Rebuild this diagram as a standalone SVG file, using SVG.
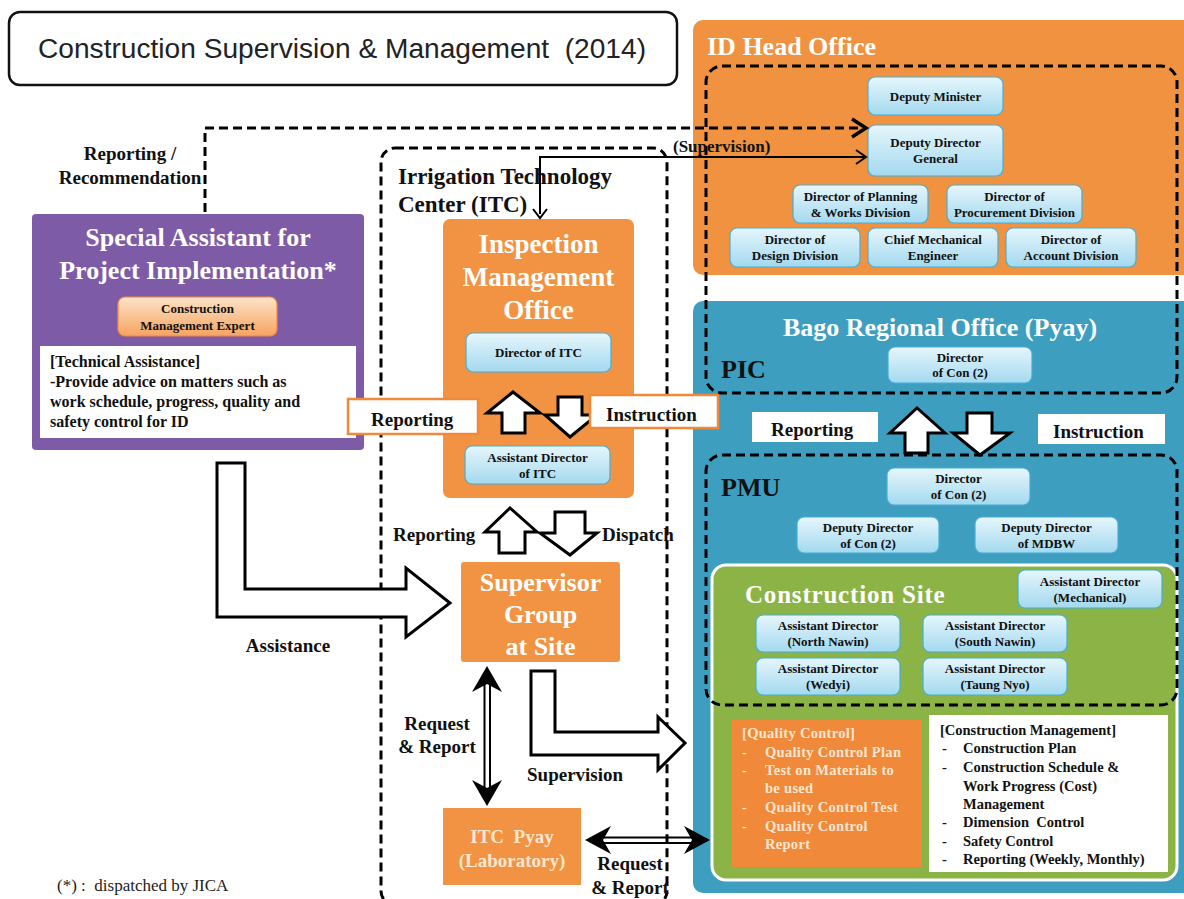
<svg xmlns="http://www.w3.org/2000/svg" width="1184" height="899" viewBox="0 0 1184 899">
  <defs>
    <linearGradient id="gBlue" x1="0" y1="0" x2="0" y2="1">
      <stop offset="0" stop-color="#E6F6FC"/>
      <stop offset="1" stop-color="#A3D9EF"/>
    </linearGradient>
    <linearGradient id="gExpert" x1="0" y1="0" x2="0" y2="1">
      <stop offset="0" stop-color="#FCE3C8"/>
      <stop offset="1" stop-color="#F6A460"/>
    </linearGradient>
    <style>
      .serif { font-family: "Liberation Serif", "Times New Roman", serif; font-weight: bold; }
      .node rect.box { fill: url(#gBlue); stroke: #47AED4; stroke-width: 1.2; }
      .node text { font-family: "Liberation Serif", serif; font-weight: bold; font-size: 13px; fill: #111; text-anchor: middle; }
      .dash { fill: none; stroke: #000; stroke-width: 3; stroke-dasharray: 9 5; }
      .block { fill: #fff; stroke: #000; stroke-width: 3; stroke-linejoin: miter; }
      .lbl { font-family: "Liberation Serif", serif; font-weight: bold; font-size: 19px; fill: #111; }
      .white { fill: #fff; }
      .cream { fill: #FCE6D0; }
      .head { font-family: "Liberation Serif", serif; font-weight: bold; fill: #fff; }
      .pre { white-space: pre; }
    </style>
  </defs>

  <rect width="1184" height="899" fill="#fff"/>

  <!-- Title -->
  <g id="title">
    <rect x="9" y="12" width="668" height="73" rx="11" fill="#fff" stroke="#111" stroke-width="2.5"/>
    <text class="pre" x="38" y="58" textLength="608" lengthAdjust="spacingAndGlyphs" font-family="Liberation Sans, Arial, sans-serif" font-size="27" fill="#222">Construction Supervision &amp; Management  (2014)</text>
  </g>

  <!-- ID Head Office -->
  <g id="id-head-office">
    <rect x="693" y="20" width="500" height="255" rx="10" fill="#F0923F"/>
    <text class="head" x="707" y="55" font-size="26">ID Head Office</text>
  </g>

  <!-- Bago Regional Office -->
  <g id="bago-office">
    <rect x="693" y="301" width="500" height="592" rx="10" fill="#3E9EC0"/>
    <text class="head" x="940" y="336" font-size="26" text-anchor="middle">Bago Regional Office (Pyay)</text>
    <text class="serif" x="721" y="378" font-size="26" fill="#111">PIC</text>
    <text class="serif" x="721" y="496" font-size="26" fill="#111">PMU</text>
  </g>

  <!-- Construction Site -->
  <g id="construction-site">
    <rect x="712" y="565" width="465" height="315" rx="14" fill="#8BB346" stroke="#fff" stroke-width="3"/>
    <text class="head" x="745" y="603" font-size="25" letter-spacing="0.8">Construction Site</text>
  </g>

  <!-- Quality control box -->
  <g id="quality-control">
    <rect x="732" y="720" width="190" height="147" fill="#F08A3A"/>
    <g class="serif cream" font-size="14.5" letter-spacing="0.3">
      <text x="742" y="738">[Quality Control]</text>
      <text x="742" y="757">-</text><text x="765" y="757">Quality Control Plan</text>
      <text x="742" y="775">-</text><text x="765" y="775">Test on Materials to</text>
      <text x="765" y="793">be used</text>
      <text x="742" y="812">-</text><text x="765" y="812">Quality Control Test</text>
      <text x="742" y="831">-</text><text x="765" y="831">Quality Control</text>
      <text x="765" y="849">Report</text>
    </g>
  </g>

  <!-- Construction management box -->
  <g id="construction-management">
    <rect x="929" y="715" width="239" height="157" fill="#fff"/>
    <g class="serif" font-size="14.5" fill="#111">
      <text x="940" y="735">[Construction Management]</text>
      <text x="942" y="753">-</text><text x="963" y="753">Construction Plan</text>
      <text x="942" y="772">-</text><text x="963" y="772">Construction Schedule &amp;</text>
      <text x="963" y="791">Work Progress (Cost)</text>
      <text x="963" y="809">Management</text>
      <text x="942" y="827">-</text><text class="pre" x="963" y="827">Dimension  Control</text>
      <text x="942" y="846">-</text><text x="963" y="846">Safety Control</text>
      <text x="942" y="864">-</text><text x="963" y="864">Reporting (Weekly, Monthly)</text>
    </g>
  </g>

  <!-- ID Head Office members -->
  <g id="deputy-minister" class="node"><rect class="box" x="868" y="77" width="135" height="38" rx="7"/><text x="935.5" y="101">Deputy Minister</text></g>
  <g id="deputy-director-general" class="node"><rect class="box" x="868" y="125" width="135" height="51" rx="7"/><text x="935.5" y="147">Deputy Director</text><text x="935.5" y="163">General</text></g>
  <g id="dir-planning" class="node"><rect class="box" x="793" y="185" width="135" height="38" rx="7"/><text x="860.5" y="201">Director of Planning</text><text x="860.5" y="217">&amp; Works Division</text></g>
  <g id="dir-procurement" class="node"><rect class="box" x="947" y="185" width="135" height="38" rx="7"/><text x="1014.5" y="201">Director of</text><text x="1014.5" y="217">Procurement Division</text></g>
  <g id="dir-design" class="node"><rect class="box" x="730" y="228" width="130" height="39" rx="7"/><text x="795" y="244">Director of</text><text x="795" y="260">Design Division</text></g>
  <g id="chief-mech" class="node"><rect class="box" x="868" y="228" width="130" height="39" rx="7"/><text x="933" y="244">Chief Mechanical</text><text x="933" y="260">Engineer</text></g>
  <g id="dir-account" class="node"><rect class="box" x="1006" y="228" width="130" height="39" rx="7"/><text x="1071" y="244">Director of</text><text x="1071" y="260">Account Division</text></g>

  <!-- Regional office members -->
  <g id="pic-director" class="node"><rect class="box" x="888" y="347" width="144" height="36" rx="7"/><text x="960" y="362">Director</text><text x="960" y="377">of Con (2)</text></g>
  <g id="pmu-director" class="node"><rect class="box" x="887" y="468" width="143" height="37" rx="7"/><text x="958.5" y="483">Director</text><text x="958.5" y="499">of Con (2)</text></g>
  <g id="pmu-deputy-con" class="node"><rect class="box" x="797" y="517" width="142" height="36" rx="7"/><text x="868" y="532">Deputy Director</text><text x="868" y="548">of Con (2)</text></g>
  <g id="pmu-deputy-mdbw" class="node"><rect class="box" x="975" y="517" width="143" height="36" rx="7"/><text x="1046.5" y="532">Deputy Director</text><text x="1046.5" y="548">of MDBW</text></g>
  <g id="ad-mechanical" class="node"><rect class="box" x="1018" y="570" width="144" height="38" rx="7"/><text x="1090" y="586">Assistant Director</text><text x="1090" y="602">(Mechanical)</text></g>
  <g id="ad-north-nawin" class="node"><rect class="box" x="756" y="615" width="144" height="37" rx="7"/><text x="828" y="630">Assistant Director</text><text x="828" y="646">(North Nawin)</text></g>
  <g id="ad-south-nawin" class="node"><rect class="box" x="923" y="615" width="144" height="37" rx="7"/><text x="995" y="630">Assistant Director</text><text x="995" y="646">(South Nawin)</text></g>
  <g id="ad-wedyi" class="node"><rect class="box" x="756" y="658" width="144" height="37" rx="7"/><text x="828" y="673">Assistant Director</text><text x="828" y="689">(Wedyi)</text></g>
  <g id="ad-taung-nyo" class="node"><rect class="box" x="923" y="658" width="144" height="37" rx="7"/><text x="995" y="673">Assistant Director</text><text x="995" y="689">(Taung Nyo)</text></g>

  <!-- Special Assistant -->
  <g id="special-assistant">
    <rect x="32" y="214" width="332" height="236" rx="4" fill="#7E5BA6"/>
    <text class="head" x="198" y="246" font-size="26" text-anchor="middle">Special Assistant for</text>
    <text class="head" x="198" y="279" font-size="26" text-anchor="middle">Project Implementation*</text>
    <rect x="118" y="297" width="159" height="39" rx="7" fill="url(#gExpert)" stroke="#F08A3A" stroke-width="1.2"/>
    <text class="serif" x="197.5" y="313" font-size="13" text-anchor="middle" fill="#111">Construction</text>
    <text class="serif" x="197.5" y="330" font-size="13" text-anchor="middle" fill="#111">Management Expert</text>
    <rect x="40" y="346" width="316" height="92" fill="#fff"/>
    <g class="serif" font-size="16" fill="#111">
      <text x="50" y="367">[Technical Assistance]</text>
      <text x="50" y="387">-Provide advice on matters such as</text>
      <text x="50" y="407">work schedule, progress, quality and</text>
      <text x="50" y="427">safety control for ID</text>
    </g>
  </g>

  <!-- ITC -->
  <g id="itc">
    <text class="serif" x="398" y="184" font-size="23" fill="#111">Irrigation Technology</text>
    <text class="serif" x="398" y="212" font-size="23" fill="#111">Center (ITC)</text>
  </g>

  <g id="inspection-office">
    <rect x="443" y="219" width="191" height="279" rx="7" fill="#F29343"/>
    <text class="head" x="538.5" y="253" font-size="27" text-anchor="middle">Inspection</text>
    <text class="head" x="538.5" y="286" font-size="27" text-anchor="middle">Management</text>
    <text class="head" x="538.5" y="319" font-size="27" text-anchor="middle">Office</text>
  </g>
  <g id="dir-itc" class="node"><rect class="box" x="466" y="333" width="145" height="39" rx="7"/><text x="538.5" y="357">Director of ITC</text></g>
  <g id="ad-itc" class="node"><rect class="box" x="465" y="446" width="145" height="38" rx="7"/><text x="537.5" y="462">Assistant Director</text><text x="537.5" y="478">of ITC</text></g>

  <g id="supervisor-group">
    <rect x="461" y="562" width="159" height="100" rx="3" fill="#F29343"/>
    <text class="head" x="540.5" y="591" font-size="26" text-anchor="middle">Supervisor</text>
    <text class="head" x="540.5" y="623" font-size="26" text-anchor="middle">Group</text>
    <text class="head" x="540.5" y="655" font-size="26" text-anchor="middle">at Site</text>
  </g>

  <g id="itc-pyay">
    <rect x="443" y="808" width="138" height="77" fill="#F29343"/>
    <text class="serif cream pre" x="512" y="843" font-size="19" text-anchor="middle">ITC  Pyay</text>
    <text class="serif cream" x="512" y="867" font-size="19" text-anchor="middle">(Laboratory)</text>
  </g>

  <!-- Connectors -->
  <g id="connectors">
    <!-- dashed boundaries -->
    <rect class="dash" x="381" y="148" width="286" height="757" rx="14"/>
    <rect class="dash" x="706" y="66" width="471" height="327" rx="16"/>
    <rect class="dash" x="706" y="455" width="471" height="250" rx="16"/>

    <!-- reporting / recommendation (dashed) -->
    <path class="dash" d="M205 212 V128 H860"/>
    <polyline points="852,119 866,128 852,137" fill="none" stroke="#000" stroke-width="3.5"/>

    <!-- supervision (solid) -->
    <path d="M540 214 V157 H864" fill="none" stroke="#000" stroke-width="2"/>
    <polyline points="856,150 866,157 856,164" fill="none" stroke="#000" stroke-width="2"/>
    <polyline points="533,209 540,218 547,209" fill="none" stroke="#000" stroke-width="2"/>

    <!-- block arrows -->
    <polygon class="block" points="502,433 502,413 487,413 513,392 540,413 525,413 525,433"/>
    <polygon class="block" points="558,397 582,397 582,415 597,415 570,437 545,415 558,415"/>
    <polygon class="block" points="499,553 499,532 485,532 510,508 537,532 525,532 525,553"/>
    <polygon class="block" points="555,512 585,512 585,533 597,533 570,555 540,533 555,533"/>
    <polygon class="block" points="905,453 905,433 890,433 917,408 945,433 928,433 928,453"/>
    <polygon class="block" points="967,413 992,413 992,433 1010,433 980,455 953,433 967,433"/>
    <polygon class="block" points="217,463 245,463 245,589 406,589 406,568 450,603 406,637 406,617 217,617"/>
    <polygon class="block" points="531,671 555,671 555,732 658,732 658,717 685,743 658,770 658,755 531,755"/>

    <!-- request & report double arrows -->
    <line x1="484.5" y1="680" x2="484.5" y2="792" stroke="#000" stroke-width="2"/>
    <line x1="490" y1="680" x2="490" y2="792" stroke="#000" stroke-width="2"/>
    <polygon points="487,666 502,692 487,684 472,692" fill="#000"/>
    <polygon points="487,806 502,780 487,788 472,780" fill="#000"/>
    <line x1="598" y1="837.5" x2="697" y2="837.5" stroke="#000" stroke-width="2"/>
    <line x1="598" y1="843" x2="697" y2="843" stroke="#000" stroke-width="2"/>
    <polygon points="585,840 611,826 603,840 611,854" fill="#000"/>
    <polygon points="710,840 684,826 692,840 684,854" fill="#000"/>
  </g>

  <!-- Labels -->
  <g id="labels">
    <text class="serif" x="130" y="160" font-size="19" text-anchor="middle" fill="#111">Reporting /</text>
    <text class="serif" x="130" y="184" font-size="19" text-anchor="middle" fill="#111">Recommendation</text>
    <text class="serif" x="673" y="152" font-size="17" fill="#111">(Supervision)</text>

    <rect x="348" y="399" width="130" height="35" fill="#fff" stroke="#F08A3A" stroke-width="2.5"/>
    <text class="lbl" x="371" y="426">Reporting</text>
    <rect x="590" y="395" width="128" height="33" fill="#fff" stroke="#F08A3A" stroke-width="2.5"/>
    <text class="lbl" x="606" y="421">Instruction</text>

    <text class="lbl" x="393" y="541">Reporting</text>
    <text class="lbl" x="602" y="541">Dispatch</text>

    <rect x="752" y="412" width="126" height="30" fill="#fff"/>
    <text class="lbl" x="771" y="436" font-size="20">Reporting</text>
    <rect x="1038" y="414" width="127" height="30" fill="#fff"/>
    <text class="lbl" x="1053" y="438" font-size="20">Instruction</text>

    <text class="lbl" x="288" y="652" text-anchor="middle">Assistance</text>
    <text class="lbl" x="437" y="730" text-anchor="middle">Request</text>
    <text class="lbl" x="437" y="753" text-anchor="middle">&amp; Report</text>
    <text class="lbl" x="527" y="781" font-size="22">Supervision</text>
    <text class="lbl" x="630" y="870" text-anchor="middle">Request</text>
    <text class="lbl" x="630" y="894" text-anchor="middle">&amp; Report</text>

    <text class="pre" x="57" y="891" font-family="Liberation Serif, serif" font-size="17" fill="#222">(*) :  dispatched by JICA</text>
  </g>
</svg>
